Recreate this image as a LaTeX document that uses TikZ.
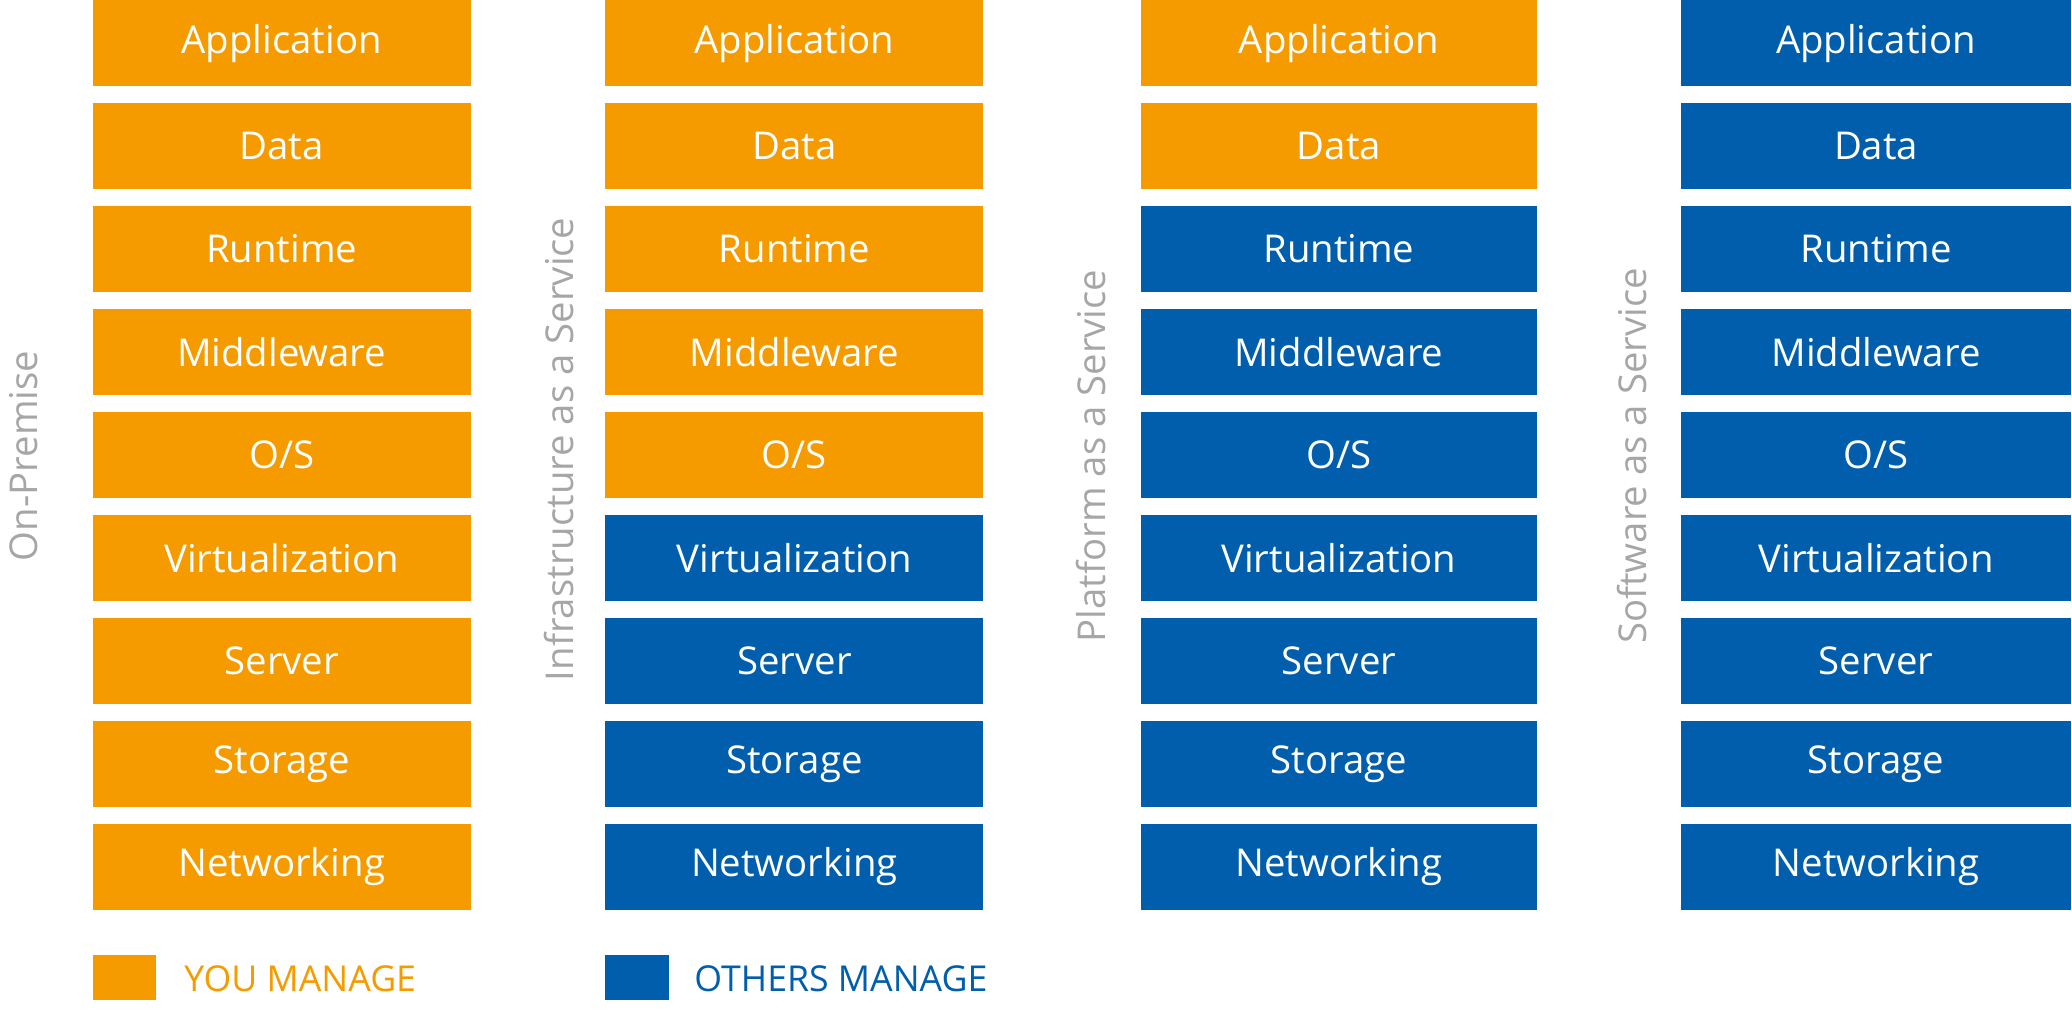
\documentclass[tikz,border=0pt]{standalone}
\usepackage{fontspec}
\setmainfont{Open Sans}
\usetikzlibrary{positioning}
\definecolor{youorange}{HTML}{F59B00}
\definecolor{otherblue}{HTML}{005EAC}
\definecolor{labelgray}{HTML}{A6A6A6}
\tikzset{
  layer/.style  = {rectangle, draw=none, text=white, minimum height=65pt, inner sep=0pt, font=\fontsize{29}{30}\selectfont, anchor=north west},
  you/.style    = {layer, fill=youorange},
  others/.style = {layer, fill=otherblue},
  model/.style  = {rotate=90, text=labelgray, font=\fontsize{29}{30}\selectfont},
  legend/.style = {font=\fontsize{27}{28}\selectfont, anchor=west}
}
\begin{document}
\begin{tikzpicture}[x=1pt,y=-1pt]
  \useasboundingbox (0,0) rectangle (1568,768);
  % columns: index / left edge / width / number of orange rows
  \foreach \c/\x/\w/\n in {1/70/286/9, 2/458/286/5, 3/863/300/2, 4/1272/295/0}{
    \foreach \name [count=\r] in {Application,Data,Runtime,Middleware,O/S,Virtualization,Server,Storage,Networking}{
      \pgfmathsetmacro{\y}{(\r-1)*77.9}
      \ifnum\r>\n
        \node[others, minimum width=\w pt] (c\c r\r) at (\x,\y) {\name};
      \else
        \node[you, minimum width=\w pt] (c\c r\r) at (\x,\y) {\name};
      \fi
    }
  }
  % labels
  \node[model] (onprem) at (18,345) {On-Premise};
  \node[model] (iaas)   at (423,340) {Infrastructure as a Service};
  \node[model] (paas)   at (826,345) {Platform as a Service};
  \node[model] (saas)   at (1235,345) {Software as a Service};
  % legend
  \fill[youorange] (70,723) rectangle (118,757) coordinate (youbox);
  \node[legend, text=youorange] (youtext) at (136,741) {YOU MANAGE};
  \fill[otherblue] (458,723) rectangle (506,757) coordinate (otherbox);
  \node[legend, text=otherblue] (othertext) at (522,741) {OTHERS MANAGE};
\end{tikzpicture}
\end{document}
